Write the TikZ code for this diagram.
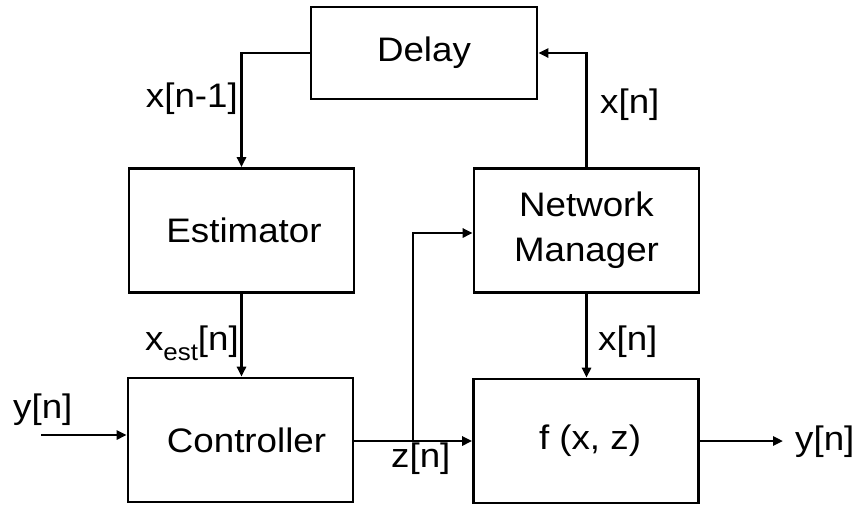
\documentclass[tikz,border=0pt]{standalone}
\usepackage{fontspec}
\setmainfont[FakeStretch=1.08]{Liberation Sans}
\usetikzlibrary{arrows.meta}

\begin{document}
\begin{tikzpicture}[x=1pt,y=-1pt,
    font=\fontsize{34}{40}\selectfont,
    block/.style={draw, line width=2.6pt, rectangle, minimum width=225pt, minimum height=124pt, inner sep=0pt, align=center},
    wire/.style={line width=2.6pt, -{Triangle[length=10pt,width=9pt]}},
    sig/.style={inner sep=0pt}]
  \useasboundingbox (0,0) rectangle (859,509);

  % blocks
  \node[block, minimum width=226pt, minimum height=92pt] (delay) at (424,53) {Delay};
  \node[block] (est)  at (241.5,230.5) {\hspace*{5pt}Estimator};
  \node[block] (nm)   at (586.5,230.5) {Network\\[5pt]Manager};
  \node[block] (ctrl) at (240.5,440) {\hspace*{12pt}Controller};
  \node[block] (fxz)  at (586,441) {\hspace*{8pt}f (x, z)};

  % free ends and branch point
  \coordinate (yin)  at (41,435);
  \coordinate (yout) at (783,441);
  \coordinate (br)   at (413,441);

  % connectors
  \draw[wire] (delay.west) -| (est.north);
  \draw[wire] (nm.north) |- (delay.east);
  \draw[wire] (est.south) -- (est.south |- ctrl.north);
  \draw[wire] (nm.south) -- (nm.south |- fxz.north);
  \draw[wire] (yin) -- (yin -| ctrl.west);
  \draw[line width=2.6pt] (ctrl.east |- br) -- (br);
  \draw[wire] (br) -- (br -| fxz.west);
  \draw[wire] (br) |- ([yshift=-2.5pt]nm.west);
  \draw[wire] (fxz.east |- yout) -- (yout);

  % signal labels
  \node[sig, anchor=base east] (lxn1) at (238,107) {x[n-1]};
  \node[sig, anchor=base west] (lxn)  at (600,113) {x[n]};
  \node[sig, anchor=base east] (lxe)  at (239,350) {x\raisebox{-0.3em}{\fontsize{24}{24}\selectfont est}[n]};
  \node[sig, anchor=base west] (lxn2) at (598,350) {x[n]};
  \node[sig, anchor=base west] (lyin) at (13,418) {y[n]};
  \node[sig, anchor=base west] (lzn)  at (391,467) {z[n]};
  \node[sig, anchor=base west] (lyout) at (795,450) {y[n]};
\end{tikzpicture}
\end{document}
